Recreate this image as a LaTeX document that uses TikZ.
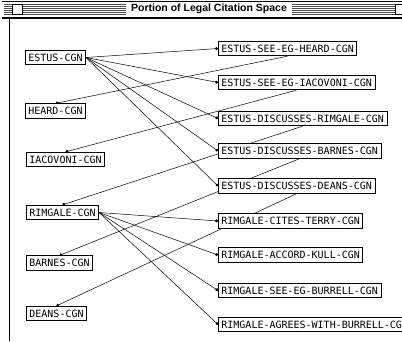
\documentclass[tikz,border=0pt]{standalone}
\usepackage{fontspec}
\setmonofont{DejaVu Sans Mono}
\newfontfamily\titlefont{Liberation Sans}
\usetikzlibrary{arrows.meta,backgrounds}

\tikzset{
  cite/.style={draw, line width=0.8pt, fill=white, anchor=west,
    font=\ttfamily\fontsize{10}{12}\selectfont,
    inner xsep=3pt, inner ysep=3.6pt, text height=7.3pt, text depth=0pt},
  link/.style={line width=0.5pt, -{Circle[length=3pt]}},
  frame/.style={line width=0.8pt}
}

\begin{document}
\begin{tikzpicture}[x=1pt,y=-1pt]
  \useasboundingbox (0,0) rectangle (402,341);
  \clip (0,0) rectangle (402,341);
  % window title bar
  \draw[frame] (2,1) -- (402,1);
  \foreach \y in {4,6,...,14}
    \draw[line width=0.6pt, black!70] (4,\y) -- (402,\y);
  \draw[frame, fill=white] (12,4) rectangle (22,14);
  \draw[frame, fill=white] (395,4) rectangle (408,14);
  \node[fill=white, inner xsep=5pt, inner ysep=1pt,
    font=\titlefont\bfseries\fontsize{10.5}{12}\selectfont] (title) at (209,9)
    {Portion of Legal Citation Space};
  \draw[line width=1.2pt] (2,18) -- (402,18);
  \draw[frame] (9,18) -- (9,341);

  \node[cite] (estus)    at (25,57.5)  {ESTUS-CGN};
  \node[cite] (heard)    at (25,111)   {HEARD-CGN};
  \node[cite] (iacovoni) at (26,159.5) {IACOVONI-CGN};
  \node[cite] (rimgale)  at (26,212.5) {RIMGALE-CGN};
  \node[cite] (barnes)   at (26,263)   {BARNES-CGN};
  \node[cite] (deans)    at (26,313.5) {DEANS-CGN};

  \node[cite] (seeheard)      at (218,48.5)  {ESTUS-SEE-EG-HEARD-CGN};
  \node[cite] (seeiacovoni)   at (218,82.5)  {ESTUS-SEE-EG-IACOVONI-CGN};
  \node[cite] (discrimgale)   at (218,118.5) {ESTUS-DISCUSSES-RIMGALE-CGN};
  \node[cite] (discbarnes)    at (218,151)   {ESTUS-DISCUSSES-BARNES-CGN};
  \node[cite] (discdeans)     at (218,186)   {ESTUS-DISCUSSES-DEANS-CGN};
  \node[cite] (citesterry)    at (218,221)   {RIMGALE-CITES-TERRY-CGN};
  \node[cite] (accordkull)    at (218,255)   {RIMGALE-ACCORD-KULL-CGN};
  \node[cite] (seeburrell)    at (218,290.5) {RIMGALE-SEE-EG-BURRELL-CGN};
  \node[cite] (agreesburrell) at (218,324.5) {RIMGALE-AGREES-WITH-BURRELL-CGN};

  \begin{scope}[on background layer]
    \foreach \t in {seeheard,seeiacovoni,discrimgale,discbarnes,discdeans}
      \draw[link] (estus.east) -- (\t.west);
    \foreach \t in {citesterry,accordkull,seeburrell,agreesburrell}
      \draw[link] (rimgale.east) -- (\t.west);
    \draw[link] (seeheard.south)    -- (heard.north);
    \draw[link] (seeiacovoni.south) -- (iacovoni.north);
    \draw[link] (discrimgale.south) -- (rimgale.north);
    \draw[link] (discbarnes.south)  -- (barnes.north);
    \draw[link] (discdeans.south)   -- (deans.north);
  \end{scope}
\end{tikzpicture}
\end{document}
